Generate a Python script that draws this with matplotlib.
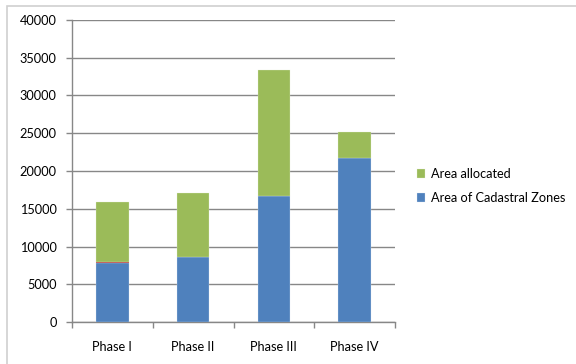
import matplotlib
matplotlib.use("Agg")
import matplotlib.pyplot as plt
from matplotlib.patches import Rectangle
import numpy as np

phases = ["Phase I", "Phase II", "Phase III", "Phase IV"]
cadastral = [7750, 8600, 16700, 21700]
overlap = [150, 0, 0, 0]
allocated = [8050, 8500, 16700, 3500]
yticks = [0, 5000, 10000, 15000, 20000, 25000, 30000, 35000, 40000]

blue = "#4F81BD"
green = "#9BBB59"
red = "#C0504D"
grid = "#878787"

plt.rcParams["font.family"] = ["Lato", "DejaVu Sans"]

fig = plt.figure(figsize=(5.76, 3.64), dpi=100)
fig.patches.append(Rectangle((7 / 576, -0.1), 1.2, 1 - 6 / 364 + 0.1,
                             transform=fig.transFigure, fill=False,
                             edgecolor="#D0D0D0", linewidth=1.2))

ax = fig.add_axes([72 / 576, 42 / 364, 323 / 576, 302 / 364])
x = np.arange(len(phases))
w = 0.4
b1 = ax.bar(x, cadastral, w, color=blue, edgecolor="#DCE6F2", linewidth=0.2,
            label="Area of Cadastral Zones", zorder=3)
bot = np.array(cadastral)
ax.bar(x, overlap, w, bottom=bot, color=red, linewidth=0, zorder=3)
bot = bot + np.array(overlap)
b2 = ax.bar(x, allocated, w, bottom=bot, color=green, edgecolor="#E6EED5",
            linewidth=0.2, label="Area allocated", zorder=3)

ax.set_xlim(-0.5, len(phases) - 0.5)
ax.set_ylim(0, 40000)
ax.set_yticks(yticks)
ax.set_yticklabels([str(v) for v in yticks], fontsize=9.2)
ax.yaxis.grid(True, color=grid, linewidth=1, zorder=0)
ax.set_xticks(x)
ax.set_xticklabels(phases, fontsize=9.2)
ax.tick_params(axis="x", length=0, pad=14)
ax.set_xticks(np.arange(-0.5, len(phases)), minor=True)
ax.tick_params(axis="x", which="minor", length=4, color=grid, width=1)
ax.tick_params(axis="y", length=4, color=grid, width=1, pad=7)
for s in ["top", "right"]:
    ax.spines[s].set_visible(False)
for s in ["left", "bottom"]:
    ax.spines[s].set_color(grid)
    ax.spines[s].set_linewidth(1)

fig.legend([b2, b1], ["Area allocated", "Area of Cadastral Zones"],
           loc="upper left", bbox_to_anchor=(405 / 576, 1 - 156 / 364),
           frameon=False, fontsize=9.2, handlelength=0.7, handleheight=0.7,
           handletextpad=0.45, labelspacing=0.95)

fig.savefig("out.png", dpi=100)
